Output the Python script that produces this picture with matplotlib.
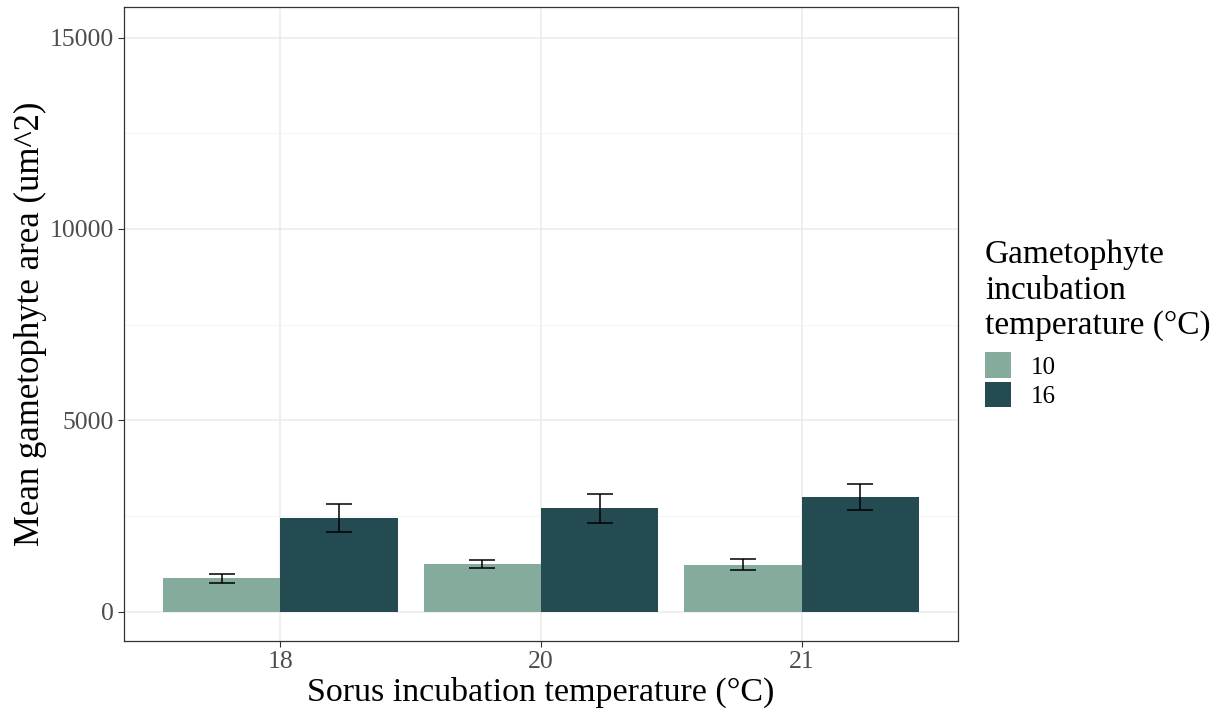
import matplotlib
matplotlib.use("Agg")
import matplotlib.pyplot as plt
from matplotlib.patches import Patch
import numpy as np

# Sorus incubation temperature categories (°C)
sorus_temps = ["18", "20", "21"]
# Gametophyte incubation temperatures (°C)
gameto_temps = ["10", "16"]
# Mean gametophyte area (um^2) per sorus temperature
mean_10 = [870, 1235, 1230]
mean_16 = [2445, 2705, 3000]
# Standard error of the mean
se_10 = [125, 105, 148]
se_16 = [375, 375, 345]

colors = ["#84AB9B", "#244A52"]

plt.rcParams["font.family"] = ["Liberation Serif", "DejaVu Serif"]

fig = plt.figure(figsize=(12.28, 7.15), dpi=100)
ax = fig.add_axes([124 / 1228, 74 / 715, 834 / 1228, 634 / 715])

x = np.arange(1, len(sorus_temps) + 1)
dodge = 0.45
for i, (means, ses) in enumerate([(mean_10, se_10), (mean_16, se_16)]):
    offs = (i - 0.5) * dodge
    ax.bar(x + offs, means, width=dodge, color=colors[i], zorder=3,
           label=gameto_temps[i])
    ax.errorbar(x + offs, means, yerr=ses, fmt="none", ecolor="black",
                elinewidth=1.1, capsize=9.6, capthick=1.1, zorder=4)

ax.set_xlim(0.4, 3.6)
ax.set_ylim(-765, 15800)
ax.set_xticks(x)
ax.set_xticklabels(sorus_temps)
ax.set_yticks([0, 5000, 10000, 15000])
ax.set_yticks([2500, 7500, 12500], minor=True)
ax.grid(True, which="major", color="#EBEBEB", linewidth=1.1, zorder=0)
ax.grid(True, which="minor", axis="y", color="#F2F2F2", linewidth=0.6, zorder=0)
ax.set_axisbelow(True)
ax.tick_params(axis="both", which="major", length=4, width=0.8, color="#333333",
               labelsize=18.5, labelcolor="#4D4D4D", pad=3)
ax.tick_params(axis="y", which="minor", length=0)
for s in ax.spines.values():
    s.set_color("#333333")
    s.set_linewidth(0.9)

ax.set_xlabel("Sorus incubation temperature (°C)", fontsize=24.5, labelpad=3)
ax.set_ylabel("Mean gametophyte area (um^2)", fontsize=25, labelpad=2)

handles = [Patch(facecolor=c, edgecolor="none") for c in colors]
leg = fig.legend(handles, gameto_temps,
                 title="Gametophyte\nincubation\ntemperature (°C)",
                 loc="upper left", bbox_to_anchor=(985 / 1228, 1 - 240 / 715),
                 frameon=False, fontsize=18, title_fontsize=24,
                 handlelength=1.04, handleheight=1.2, handletextpad=0.8,
                 labelspacing=0.12, alignment="left", borderaxespad=0,
                 borderpad=0)
leg.get_title().set_linespacing(1.2)
leg._legend_box.sep = 8

fig.savefig("out.png", dpi=100)
